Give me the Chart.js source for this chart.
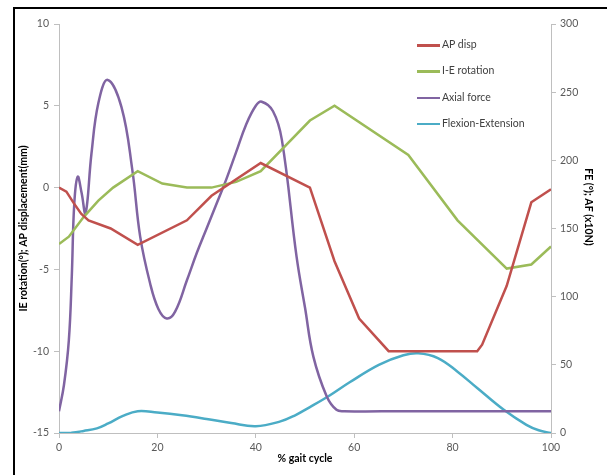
<!DOCTYPE html>
<html>
<head>
<meta charset="utf-8">
<title>Gait cycle kinematics</title>
<script src="https://cdn.jsdelivr.net/npm/chart.js@4.4.1/dist/chart.umd.min.js"></script>
<style>
    html, body { margin: 0; padding: 0; background: #fff; }
    #wrap { position: relative; width: 607px; height: 475px; overflow: hidden; }
    #frame {
        position: absolute; left: 13px; top: 7px; width: 592px; height: 470px;
        border-left: 2px solid #000; border-top: 2px solid #000;
    }
    #chart { position: absolute; left: 0; top: 0; }
    #legend {
        position: absolute; left: 417px; top: 31px;
        font: 10.5px Lato, sans-serif; color: #404040;
    }
    #legend div { height: 26.3px; line-height: 26.3px; white-space: nowrap; }
    #legend span {
        display: inline-block; width: 23px; height: 2.5px;
        vertical-align: middle; margin-right: 2px;
    }
</style>
</head>
<body>
<div id="wrap">
    <div id="frame"></div>
    <canvas id="chart" width="607" height="475"></canvas>
    <div id="legend"></div>
</div>
<script>
(function() {
    'use strict';

    // AP displacement (mm), left axis
    const apX    = [0, 1.5, 3, 4.5, 6, 10.5, 16, 26, 31, 41, 51, 56, 61, 67, 85, 86, 91, 96, 100];
    const apDisp = [0, -0.25, -0.95, -1.6, -2.0, -2.5, -3.5, -2.0, -0.5, 1.5, 0, -4.5, -8, -10, -10, -9.6, -6, -0.9, -0.1];

    // I-E rotation (deg), left axis
    const ieX   = [0, 2, 5, 8, 11, 16, 21, 26, 31, 36, 41, 51, 56, 71, 81, 91, 96, 100];
    const ieRot = [-3.45, -3.0, -1.8, -0.8, 0, 1.0, 0.25, 0, 0, 0.35, 1.0, 4.1, 5.0, 2.0, -2.0, -4.95, -4.7, -3.6];

    // Axial force (x10N), right axis
    const afX = [0, 1, 2, 2.6, 3.1, 3.8, 4.6, 5.4, 6.6, 8, 9.9, 12.7, 14.9, 16.5, 18.5, 20.2, 21.9, 23.6, 26, 28, 30,
                 32, 34, 36, 38, 40, 41.2, 43.5, 45.3, 48.3, 50, 51.7, 54.4, 56.4, 58, 70, 85, 100];
    const axialForce = [16, 35, 68, 115, 168, 188, 176, 161, 205, 242, 259, 239, 193, 144, 110, 91, 84, 89, 112, 132, 150,
                        168, 186, 206, 226, 240, 243, 236, 215, 129, 92, 56, 27, 17, 16, 16, 16, 16];

    // Flexion-Extension (deg), right axis
    const feX = [0, 2.5, 5, 7.7, 10, 13, 16, 20, 25, 30, 35, 40, 45, 48, 51, 55, 59, 65, 70, 73, 77, 81, 85, 90.4, 95, 97.5, 100];
    const flexExt = [0, 0.2, 1.5, 3.4, 7, 12.5, 16, 15, 13, 10.3, 7.3, 5, 8.5, 13, 19, 27.5, 37, 50, 57, 58.5, 55, 45, 33, 17, 6, 2, 0];

    const axisColor = '#bfbfbf';
    const tickColor = '#595959';

    Chart.defaults.font.family = 'Lato, sans-serif';
    Chart.defaults.font.size = 10.5;

    function points(xs, ys) {
        return xs.map((x, i) => ({ x: x, y: ys[i] }));
    }

    function series(label, xs, ys, color, axis, tension) {
        return {
            label: label,
            data: points(xs, ys),
            yAxisID: axis,
            borderColor: color,
            backgroundColor: color,
            borderWidth: 2.5,
            pointRadius: 0,
            fill: false,
            tension: tension
        };
    }

    /**
     * Right axis title (Excel puts it a bit above centre)
     */
    const rightTitle = {
        id: 'rightTitle',
        afterDraw(chart) {
            const ctx = chart.ctx;
            ctx.save();
            ctx.translate(588, 207);
            ctx.rotate(Math.PI / 2);
            ctx.font = 'bold 10.5px Lato, sans-serif';
            ctx.fillStyle = '#000';
            ctx.textAlign = 'center';
            ctx.textBaseline = 'middle';
            ctx.fillText('FE (°); AF (x10N)', 0, 0);
            ctx.restore();
        }
    };

    const grid = { drawOnChartArea: false, tickLength: 5, color: axisColor };

    const chart = new Chart(document.getElementById('chart'), {
        type: 'line',
        data: {
            datasets: [
                series('AP disp', apX, apDisp, '#c0504d', 'y', 0),
                series('I-E rotation', ieX, ieRot, '#9bbb59', 'y', 0),
                series('Axial force', afX, axialForce, '#8064a2', 'y2', 0.4),
                series('Flexion-Extension', feX, flexExt, '#4bacc6', 'y2', 0.4)
            ]
        },
        options: {
            responsive: false,
            animation: false,
            layout: { padding: { top: 24, left: 0, right: 0, bottom: 0 } },
            plugins: {
                legend: { display: false },
                tooltip: { enabled: false }
            },
            scales: {
                x: {
                    type: 'linear',
                    min: 0,
                    max: 100,
                    ticks: { stepSize: 20, padding: 3, color: tickColor },
                    grid: grid,
                    border: { color: axisColor },
                    title: {
                        display: true,
                        text: '% gait cycle',
                        color: '#000',
                        font: { weight: 'bold' },
                        padding: { top: 0, bottom: 10 }
                    },
                    afterFit: s => { s.height = 42; }
                },
                y: {
                    position: 'left',
                    min: -15,
                    max: 10,
                    ticks: { stepSize: 5, padding: 5, color: tickColor },
                    grid: grid,
                    border: { color: axisColor },
                    title: {
                        display: true,
                        text: 'IE rotation(°); AP displacement(mm)',
                        color: '#000',
                        font: { weight: 'bold' },
                        padding: { top: 17, bottom: 0 }
                    },
                    afterFit: s => { s.width = 59; }
                },
                y2: {
                    position: 'right',
                    min: 0,
                    max: 300,
                    ticks: { stepSize: 50, padding: 4, color: tickColor },
                    grid: grid,
                    border: { color: axisColor },
                    afterFit: s => { s.width = 56; }
                }
            }
        },
        plugins: [rightTitle]
    });

    // HTML legend from the datasets
    const legend = document.getElementById('legend');
    chart.data.datasets.forEach(ds => {
        const row = document.createElement('div');
        const line = document.createElement('span');
        line.style.background = ds.borderColor;
        row.appendChild(line);
        row.appendChild(document.createTextNode(ds.label));
        legend.appendChild(row);
    });
})();
</script>
</body>
</html>
